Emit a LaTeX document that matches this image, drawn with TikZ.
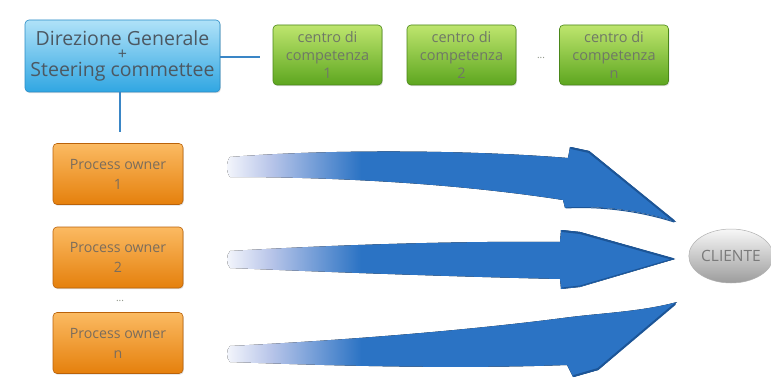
\documentclass[tikz,border=0pt]{standalone}
\usepackage{fontspec}
\setmainfont{Open Sans}
\usetikzlibrary{shadows,shapes.geometric}

% palette
\definecolor{dgtop}{HTML}{B0E2F8}
\definecolor{dgbottom}{HTML}{30A6E2}
\definecolor{dgborder}{HTML}{2A8CC6}
\definecolor{dgtext}{HTML}{4C5862}
\definecolor{cctop}{HTML}{BEE56E}
\definecolor{ccbottom}{HTML}{5DA61F}
\definecolor{ccborder}{HTML}{4A8719}
\definecolor{cctext}{HTML}{6F7866}
\definecolor{potop}{HTML}{FBBA62}
\definecolor{pobottom}{HTML}{E5800C}
\definecolor{poborder}{HTML}{BA6209}
\definecolor{potext}{HTML}{7B6D5C}
\definecolor{linkblue}{HTML}{3A86C6}
\definecolor{arrowblue}{HTML}{2B73C4}
\definecolor{arrowdark}{HTML}{1C5597}
\definecolor{fadestart}{HTML}{F4F6FC}
\definecolor{fademid}{HTML}{B8C5E9}
\definecolor{clienttop}{HTML}{F7F7F7}
\definecolor{clientbottom}{HTML}{9C9C9C}
\definecolor{clienttext}{HTML}{7A7A7A}

% flow arrows: pale at the tail, full blue towards the head
\pgfdeclarehorizontalshading{arrowfade}{100bp}{color(0bp)=(white); color(25bp)=(fadestart); color(30bp)=(fademid); color(40bp)=(arrowblue); color(100bp)=(arrowblue)}

\tikzset{
  box/.style={rounded corners=4pt, inner sep=0pt, align=center, line width=0.6pt,
    drop shadow={opacity=0.25, shadow xshift=0.8pt, shadow yshift=-1.2pt}},
  dgbox/.style={box, top color=dgtop, bottom color=dgbottom, draw=dgborder,
    minimum width=195pt, minimum height=72pt, text=dgtext,
    font=\fontsize{19.5}{15.5}\selectfont},
  ccbox/.style={box, top color=cctop, bottom color=ccbottom, draw=ccborder,
    minimum width=109pt, minimum height=60pt, text=cctext,
    font=\fontsize{14.5}{18}\selectfont},
  pobox/.style={box, top color=potop, bottom color=pobottom, draw=poborder,
    minimum width=130pt, minimum height=61pt, text=potext,
    font=\fontsize{14.2}{20}\selectfont},
  dots/.style={text=cctext!80, font=\fontsize{10}{10}\selectfont, inner sep=0pt},
  link/.style={draw=linkblue, line width=2pt},
  flow/.style={shading=arrowfade},
  flowedge/.style={draw=arrowdark, line width=2pt, line join=round, line cap=round},
  clientnode/.style={ellipse, minimum width=78pt, minimum height=54pt, inner sep=0pt,
    top color=clienttop, bottom color=clientbottom, draw=clientbottom!80, line width=0.5pt,
    text=clienttext, font=\fontsize{15.5}{15.5}\selectfont}
}

\begin{document}
\begin{tikzpicture}[x=1pt, y=-1pt]
  \useasboundingbox (0,0) rectangle (771,385);
  \fill[white] (0,0) rectangle (771,385);

  % management and competence centres
  \node[dgbox] (dg) at (122.5,56) {Direzione Generale\\[-1.5pt]{\fontsize{16}{15.5}\selectfont +}\\[1.5pt]Steering commettee};
  \node[ccbox] (c1) at (327.5,55) {centro di\\competenza\\1};
  \node[ccbox] (c2) at (461.5,55) {centro di\\competenza\\2};
  \node[dots]  (cdots) at (541,58) {...};
  \node[ccbox] (cn) at (614,55) {centro di\\competenza\\n};

  \coordinate (dgright) at (260,57);
  \coordinate (dgdown) at (120,132);
  \draw[link] (dg.east |- dgright) -- (dgright);
  \draw[link] (dg.south -| dgdown) -- (dgdown);

  % process owners
  \node[pobox] (po1) at (118,174) {Process owner\\1};
  \node[pobox] (po2) at (118,257.5) {Process owner\\2};
  \node[dots]  (podots) at (120,301) {...};
  \node[pobox] (pon) at (118,343) {Process owner\\n};

  % customer
  \node[clientnode] (cliente) at (731,256) {CLIENTE};

  % arrow 1, bending down towards the customer
  \fill[flow] (230,157) .. controls (330,149) and (470,150) .. (568,158)
    -- (570,147) -- (589,151) -- (676,222)
    .. controls (640,210) and (600,205) .. (565,208)
    -- (563,200) .. controls (460,184) and (340,177) .. (230,177)
    .. controls (226,172) and (226,162) .. cycle;
  \draw[flowedge] (571,148) -- (589,152) -- (674,221);
  \draw[flowedge, line width=1pt] (674,222) .. controls (640,211) and (600,206) .. (566,208);

  % arrow 2, straight
  \fill[flow] (230,251) .. controls (350,244) and (470,241) .. (560,242)
    -- (561,230) -- (580,232) -- (675,259) -- (580,287) -- (561,289)
    -- (560,279) .. controls (470,277) and (350,273) .. (230,268)
    .. controls (226,264) and (226,255) .. cycle;
  \draw[flowedge] (562,231) -- (580,233) -- (673,259);
  \draw[flowedge, line width=1pt] (673,259) -- (580,286) -- (562,288);

  % arrow 3, bending up towards the customer
  \fill[flow] (230,346) .. controls (350,340) and (470,330) .. (563,318)
    .. controls (600,313) and (640,312) .. (677,302)
    -- (598,370) -- (573,377) -- (567,365)
    .. controls (460,369) and (340,366) .. (230,362)
    .. controls (226,358) and (226,350) .. cycle;
  \draw[flowedge] (675,304) -- (598,369) -- (574,376);
\end{tikzpicture}
\end{document}
